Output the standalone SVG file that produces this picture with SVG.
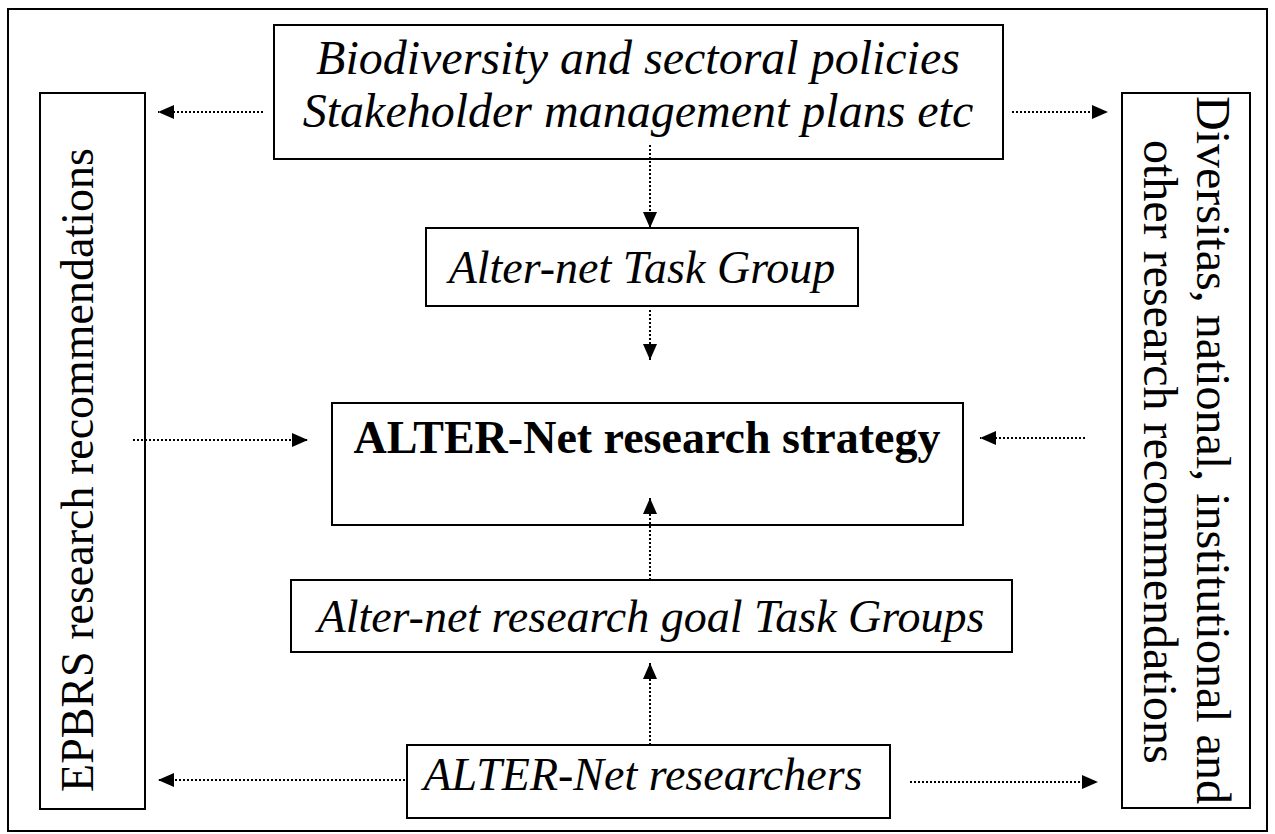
<svg xmlns="http://www.w3.org/2000/svg" width="1275" height="834" viewBox="0 0 1275 834">
<style>
.box{fill:#fff;stroke:#000;stroke-width:2}
.it{font-family:"Liberation Serif","Times New Roman",serif;font-style:italic;font-size:46px;fill:#000;text-anchor:middle}
.rg{font-family:"Liberation Serif","Times New Roman",serif;font-size:46px;fill:#000;text-anchor:middle}
.bd{font-family:"Liberation Serif","Times New Roman",serif;font-weight:bold;font-size:46px;fill:#000;text-anchor:middle}
.con{fill:none;stroke:#000;stroke-width:2;stroke-dasharray:2 2;marker-end:url(#ah)}
</style>
<defs>
<marker id="ah" markerUnits="userSpaceOnUse" markerWidth="16" markerHeight="14" refX="16" refY="7" orient="auto" viewBox="0 0 16 14">
<path d="M0,0 L16,7 L0,14 z" fill="#000"/>
</marker>
</defs>
<rect width="1275" height="834" fill="#fff"/>
<rect id="frame" x="8" y="9" width="1259" height="822" fill="none" stroke="#000" stroke-width="2"/>
<g id="policies">
<rect class="box" x="274" y="25" width="729" height="134"/>
<text class="it" x="638" y="74" style="font-size:48px">Biodiversity and sectoral policies</text>
<text class="it" x="638" y="127" style="font-size:48px">Stakeholder management plans etc</text>
</g>
<g id="epbrs">
<rect class="box" x="40" y="93" width="105" height="716"/>
<text class="rg" transform="translate(93,470) rotate(-90)">EPBRS research recommendations</text>
</g>
<g id="diversitas">
<rect class="box" x="1122" y="93" width="128" height="715"/>
<text class="rg" transform="translate(1197,0) rotate(90)" style="font-size:48px;text-anchor:start"><tspan x="96" y="0">Diversitas, national, institutional and</tspan><tspan x="140" y="53">other research recommendations</tspan></text>
</g>
<g id="taskgroup">
<rect class="box" x="426" y="228" width="432" height="78"/>
<text class="it" x="642" y="283">Alter-net Task Group</text>
</g>
<g id="strategy">
<rect class="box" x="332" y="403" width="631" height="122"/>
<text class="bd" x="647" y="453">ALTER-Net research strategy</text>
</g>
<g id="goal">
<rect class="box" x="291" y="580" width="721" height="72"/>
<text class="it" x="651" y="632">Alter-net research goal Task Groups</text>
</g>
<g id="researchers">
<rect class="box" x="407" y="745" width="483" height="73"/>
<text class="it" x="643" y="790">ALTER-Net researchers</text>
</g>
<g id="connectors">
<path class="con" d="M263,112 L158,112"/>
<path class="con" d="M1012,112 L1108,112"/>
<path class="con" d="M650,145 L650,228"/>
<path class="con" d="M650,310 L650,360"/>
<path class="con" d="M133,440 L308,440"/>
<path class="con" d="M1085,438 L980,438"/>
<path class="con" d="M650,580 L650,498"/>
<path class="con" d="M650,745 L650,663"/>
<path class="con" d="M405,780 L158,780"/>
<path class="con" d="M910,782 L1098,782"/>
</g>
</svg>
